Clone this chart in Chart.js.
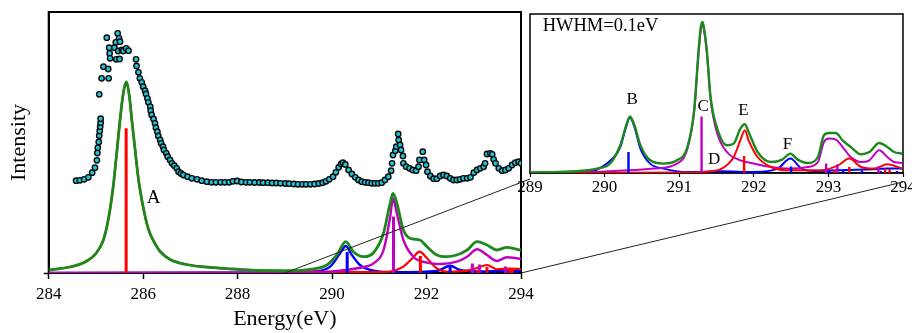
<!DOCTYPE html>
<html>
<head>
<meta charset="utf-8">
<script src="https://cdn.jsdelivr.net/npm/chart.js@4.4.1/dist/chart.umd.min.js"></script>
<style>
  html, body { margin: 0; padding: 0; background: #fff; overflow: hidden; }
  #wrap { position: relative; width: 912px; height: 333px; overflow: hidden; }
  #mainChart { position: absolute; left: 0; top: 0; }
  #zoomChart { position: absolute; left: 515px; top: 0; }
  #links { position: absolute; left: 0; top: 0; pointer-events: none; }
</style>
</head>
<body>
<div id="wrap">
  <canvas id="mainChart" width="560" height="333"></canvas>
  <canvas id="zoomChart" width="420" height="205"></canvas>
  <svg id="links" width="912" height="333"></svg>
</div>
<script>
// measured spectrum (dots), energy in eV, intensity in arb. units
const dotE = [284.58,284.66,284.75,284.84,284.92,284.98,285.02,285.03,285.04,285.06,285.07,285.07,285.08,285.09,285.10,285.10,
  285.12,285.16,285.23,285.26,285.27,285.28,285.29,285.30,285.39,285.42,285.43,285.46,285.47,285.49,285.50,285.51,285.55,285.58,
  285.64,285.69,285.85,285.86,285.90,285.93,285.97,286.00,286.04,286.06,286.09,286.11,286.15,286.16,286.18,286.22,286.25,286.27,
  286.30,286.32,286.36,286.38,286.42,286.44,286.49,286.52,286.57,286.61,286.66,286.71,286.75,286.80,286.85,286.94,287.03,287.14,
  287.24,287.35,287.45,287.54,287.64,287.73,287.82,287.90,287.99,288.08,288.18,288.26,288.36,288.46,288.54,288.64,288.73,288.82,
  288.91,289.01,289.09,289.19,289.28,289.37,289.45,289.54,289.63,289.72,289.80,289.87,289.94,290.02,290.08,290.14,290.19,290.23,
  290.28,290.35,290.42,290.49,290.56,290.63,290.70,290.77,290.84,290.91,290.98,291.05,291.12,291.19,291.25,291.27,291.29,291.34,
  291.36,291.40,291.41,291.44,291.46,291.50,291.51,291.57,291.64,291.71,291.78,291.83,291.85,291.92,291.95,291.99,292.02,292.08,
  292.15,292.22,292.29,292.36,292.43,292.50,292.57,292.64,292.71,292.78,292.86,292.93,293.00,293.07,293.14,293.21,293.24,293.28,
  293.35,293.39,293.42,293.46,293.53,293.60,293.67,293.74,293.81,293.88,293.95,294.00];
const dotI = [92.3,92.7,93.7,95.7,100.3,105.3,112.7,120,125.3,131,137.3,178.7,142,146.3,150.3,154.3,
  194.7,206.3,235.3,204,194.7,225.3,219.7,214.7,225.3,230.7,213.7,239.7,222,234.7,214,231.3,223,222,
  224.7,222.3,213.7,207,200.7,194.7,190.7,186.3,182.3,179,174.7,170.7,166.3,162.3,158,154,149.7,145.3,
  141.3,137,133,129.7,126.3,123,119.7,116.3,113,109.7,107.3,104.7,101.3,99.5,98,96.3,94.7,93.7,
  92.3,91.3,90.7,90.7,90.7,90.7,90.7,91.7,92,91,90.7,90.7,90.5,90.5,90.3,90.3,90,90,
  89.7,89.5,89.3,89,88.7,88.7,88.7,88.7,89,89.5,90.3,91.7,93.7,96.3,100.7,105.7,109,110.3,
  108.5,103,99,95.7,93,91.3,90.7,90.3,89.7,89.7,89.7,90.3,93,96.3,102.3,109.7,118,122.3,
  126.3,139,133,128,123,117,109.7,106.3,104.7,103,102.3,106.3,113,121.3,113,108,101.3,97,
  94.3,94.3,97,98,97,94.7,93,93,93.7,94.7,94.7,95.7,100.3,103,104.7,106.3,109.7,119,
  119.7,118.7,113.7,109.7,104.7,102.3,103,104.7,108,110.3,111.3,109.7];

// calculated transitions (sticks)
const redStickE = [285.64, 291.87, 293.08, 293.28, 293.76, 293.82];
const redStickI = [144.7, 17, 3, 6, 4, 4];
const blueStickE = [290.32, 291.56, 292.50, 293.01, 293.20, 293.45, 293.70, 293.92];
const blueStickI = [21, 2, 6.5, 2, 2, 2.5, 2, 2];
const magStickE = [291.30, 292.97, 293.12, 293.67];
const magStickI = [56.5, 9.5, 8.5, 6.5];

// broadened spectra, main panel
const mainGreenE = [284.00,284.45,284.77,285.00,285.15,285.23,285.30,285.37,285.44,285.51,285.58,285.64,285.71,285.76,285.83,
  285.90,285.98,286.08,286.14,286.21,286.28,286.36,286.57,286.92,287.48,287.90,288.62,289.11,289.54,289.89,290.10,290.29,290.45,290.67,290.88,
  291.09,291.23,291.29,291.37,291.51,291.65,291.86,292.01,292.22,292.43,292.64,292.86,293.07,293.28,293.49,293.70,293.91,294.00];
const mainGreenI = [3,6,11,19.5,32,46,64,88,120,153,180,191,176,153,123,
  94,71,49,40,33,27,21.5,13.5,8.5,5.3,4,2.3,2.3,3.7,8,18,31.3,21.3,16.3,20.5,
  40,70,79.5,70,43,34.7,33,26.3,18,16.3,18,23,31.3,28,23,25.7,23.7,23];
const mainRedE = [284.00,284.45,284.77,285.00,285.15,285.23,285.30,285.37,285.44,285.51,285.58,285.64,285.71,285.76,285.83,
  285.90,285.98,286.08,286.14,286.21,286.28,286.36,286.57,286.92,287.48,287.90,288.62,289.11,289.61,290.29,291.00,291.23,291.51,291.72,291.85,
  292.01,292.22,292.43,292.86,293.07,293.28,293.49,293.77,294.00];
const mainRedI = [3,6,11,19.5,32,46,64,88,120,153,180,191,176,153,123,
  94,71,49,40,33,27,21.5,13.5,8.5,5.3,4,2.3,1.8,1.3,1,1,1.5,6.3,15.7,21.3,
  14.7,4.7,1.3,2.3,5,8,3.7,4.5,4];
const mainMagE = [284.00,289.50,289.96,290.29,290.67,290.88,291.09,291.23,291.29,291.37,291.51,291.72,292.01,292.29,292.64,
  292.86,293.07,293.28,293.49,293.70,293.91,294.00];
const mainMagI = [0,0.5,1.3,3,6,9.7,23,56,74.7,59.7,33,16.3,10.3,9,11.3,16.3,23.7,18,12,15.7,14.7,14];
const mainBlueE = [284.00,289.30,289.61,289.96,290.17,290.29,290.42,290.59,290.88,291.37,292.22,292.50,292.71,293.14,293.60,294.00];
const mainBlueI = [0,0.5,1.3,6.3,19.7,27,18,8,2.3,0.7,2,7.3,3,1.5,2,2];

// broadened spectra, zoomed panel (HWHM = 0.1 eV)
const zoomGreenE = [289.00,289.54,289.90,290.08,290.21,290.29,290.34,290.40,290.48,290.61,290.79,290.97,291.11,291.20,291.26,
  291.29,291.31,291.33,291.37,291.42,291.51,291.64,291.73,291.82,291.88,291.93,292.05,292.23,292.38,292.49,292.59,292.72,292.86,292.94,293.01,
  293.10,293.19,293.30,293.44,293.55,293.68,293.79,293.88,293.99];
const zoomGreenI = [0.5,1.5,4.4,10,27.7,47.7,56.5,47.7,27.7,12.7,9.4,12.7,26,62.7,122.7,
  146,151,146,122.7,76,44.4,27.7,29.4,44.4,48.7,41,21,11,13.4,19.4,13.4,10,16,37.7,40,
  40,32.7,26,18.7,21,30,26,21,19.4];
const zoomMagE = [289.00,290.00,290.66,290.97,291.11,291.20,291.26,291.29,291.31,291.33,291.37,291.42,291.51,291.64,291.82,292.00,292.23,
  292.49,292.72,292.86,292.94,293.01,293.10,293.19,293.30,293.44,293.55,293.68,293.79,293.88,293.99];
const zoomMagI = [0,1.5,4.4,9.4,24.4,61,120,144,149,144,121,74.4,39.4,21,12.7,9.4,6,4.4,6,11,31,34.4,33.4,26,16,11,12.7,22.7,16,11,10];
const zoomBlueE = [289.00,289.76,290.03,290.21,290.29,290.34,290.40,290.48,290.61,290.79,291.11,291.57,292.00,292.32,292.49,
  292.64,292.82,293.13,293.48,293.79,293.99];
const zoomBlueI = [0.3,1,9.4,26,46.7,55.4,46,24.4,9.4,4.4,1,1.7,1,4.4,14.4,4.4,2,2.7,3.4,4.4,4.4];
const zoomRedE = [289.00,291.10,291.31,291.57,291.73,291.82,291.88,291.93,292.05,292.23,292.45,292.90,293.13,293.28,293.44,
  293.62,293.79,293.99];
const zoomRedI = [0,0.5,1,4.4,16,32.7,42.7,32.7,16,6,2.7,2.7,7.7,14.4,6,4.4,8.7,4.4];

// peak letters
const mainLabels = ['A'];
const mainLabelE = [286.22];
const mainLabelI = [75];
const zoomLabels = ['B', 'C', 'D', 'E', 'F'];
const zoomLabelE = [290.37, 291.32, 291.47, 291.86, 292.45];
const zoomLabelI = [73.5, 66, 13, 62.5, 28.5];

const serif = "'Liberation Serif', 'Times New Roman', serif";
const GREEN = '#1c891c', RED = '#ff0000', BLUE = '#0000ff', MAG = '#bf00bf';

function pts(E, I) { return E.map((e, i) => ({ x: e, y: I[i] })); }
function stickPts(E, I) {
  const out = [];
  E.forEach((e, i) => { out.push({ x: e, y: 0 }, { x: e, y: I[i] }, { x: e, y: null }); });
  return out;
}
function curve(data, color, width) {
  return { data, borderColor: color, borderWidth: width, pointRadius: 0, fill: false, cubicInterpolationMode: 'monotone' };
}
function sticks(data, color, width) {
  return { data, borderColor: color, borderWidth: width, pointRadius: 0, fill: false, tension: 0, spanGaps: false, borderCapStyle: 'butt' };
}

const framePlugin = {
  id: 'frame',
  beforeDatasetsDraw(chart, args, opts) {
    const { ctx, chartArea: a } = chart;
    ctx.save();
    ctx.strokeStyle = '#000';
    ctx.lineWidth = opts.width || 1.5;
    ctx.strokeRect(a.left, a.top, a.right - a.left, a.bottom - a.top);
    ctx.restore();
  }
};

const textPlugin = {
  id: 'notes',
  afterDatasetsDraw(chart, args, opts) {
    const { ctx, scales: { x, y } } = chart;
    ctx.save();
    ctx.fillStyle = '#000';
    ctx.textBaseline = 'middle';
    (opts.items || []).forEach(it => {
      ctx.font = it.font;
      ctx.textAlign = it.align || 'center';
      ctx.fillText(it.text, x.getPixelForValue(it.x), y.getPixelForValue(it.y));
    });
    ctx.restore();
  }
};

const mainChart = new Chart(document.getElementById('mainChart'), {
  type: 'line',
  data: {
    datasets: [
      { data: pts(dotE, dotI), showLine: false, pointRadius: 2.7, pointBorderWidth: 1.4,
        pointBackgroundColor: '#1ec6d8', pointBorderColor: '#0a0a0a' },
      sticks(stickPts(redStickE, redStickI), RED, 3),
      sticks(stickPts(magStickE, magStickI), MAG, 3),
      sticks(stickPts(blueStickE, blueStickI), BLUE, 3),
      curve(pts(mainGreenE, mainGreenI), GREEN, 2.8),
      curve(pts(mainMagE, mainMagI), MAG, 2.4),
      curve(pts(mainRedE, mainRedI), RED, 2.2),
      curve(pts(mainBlueE, mainBlueI), BLUE, 2.4)
    ]
  },
  options: {
    responsive: false,
    animation: false,
    events: [],
    layout: { padding: { left: 0, top: 12, right: 39, bottom: 0 } },
    scales: {
      x: {
        type: 'linear', min: 284, max: 294,
        ticks: { stepSize: 2, color: '#000', padding: 5, font: { family: serif, size: 17 } },
        grid: { drawOnChartArea: false, tickLength: 6, tickColor: '#000', tickWidth: 1.5 },
        border: { color: '#000', width: 1.5 },
        title: { display: true, text: 'Energy(eV)', color: '#000', font: { family: serif, size: 22 }, padding: { top: 0, bottom: 1 } },
        afterFit: s => { s.height = 60; }
      },
      y: {
        min: 0, max: 261,
        ticks: { display: false, stepSize: 1000 },
        grid: { drawOnChartArea: false, tickLength: 5, tickWidth: 1.5,
          tickColor: c => (c.tick && c.tick.value === 0) ? '#000' : 'rgba(0,0,0,0)' },
        border: { color: '#000', width: 2 },
        title: { display: true, text: 'Intensity', color: '#000', font: { family: serif, size: 22 }, padding: { top: 6.5, bottom: 0 } },
        afterFit: s => { s.width = 48.7; }
      }
    },
    plugins: {
      legend: { display: false },
      tooltip: { enabled: false },
      frame: { width: 2 },
      notes: { items: mainLabels.map((t, i) => ({ text: t, x: mainLabelE[i], y: mainLabelI[i], font: '19px ' + serif })) }
    }
  },
  plugins: [framePlugin, textPlugin]
});

const zoomChart = new Chart(document.getElementById('zoomChart'), {
  type: 'line',
  data: {
    datasets: [
      sticks(stickPts(redStickE, redStickI), RED, 2.4),
      sticks(stickPts(magStickE, magStickI), MAG, 2.4),
      sticks(stickPts(blueStickE, blueStickI), BLUE, 2.4),
      curve(pts(zoomGreenE, zoomGreenI), GREEN, 2.4),
      curve(pts(zoomRedE, zoomRedI), RED, 2),
      curve(pts(zoomMagE, zoomMagI), MAG, 2),
      curve(pts(zoomBlueE, zoomBlueI), BLUE, 2)
    ]
  },
  options: {
    responsive: false,
    animation: false,
    events: [],
    layout: { padding: { left: 15, top: 14, right: 32, bottom: 0 } },
    scales: {
      x: {
        type: 'linear', min: 289, max: 294,
        ticks: { stepSize: 1, color: '#000', padding: 0.5, font: { family: serif, size: 17 } },
        grid: { drawOnChartArea: false, tickLength: 4, tickColor: '#000', tickWidth: 1.2 },
        border: { color: '#000', width: 1.5 },
        afterFit: s => { s.height = 32; }
      },
      y: { display: false, min: 0, max: 159 }
    },
    plugins: {
      legend: { display: false },
      tooltip: { enabled: false },
      frame: { width: 1.5 },
      notes: {
        items: [{ text: 'HWHM=0.1eV', x: 289.17, y: 147, align: 'left', font: '18.5px ' + serif }]
          .concat(zoomLabels.map((t, i) => ({ text: t, x: zoomLabelE[i], y: zoomLabelI[i], font: '17px ' + serif })))
      }
    }
  },
  plugins: [framePlugin, textPlugin]
});

// connector lines between the main panel and the zoomed panel
(function () {
  const svg = document.getElementById('links');
  const off = document.getElementById('zoomChart').offsetLeft;
  const mx = mainChart.scales.x, my = mainChart.scales.y;
  const zx = zoomChart.scales.x, za = zoomChart.chartArea;
  function link(x1, y1, x2, y2) {
    const l = document.createElementNS('http://www.w3.org/2000/svg', 'line');
    l.setAttribute('x1', x1); l.setAttribute('y1', y1);
    l.setAttribute('x2', x2); l.setAttribute('y2', y2);
    l.setAttribute('stroke', '#222'); l.setAttribute('stroke-width', '1');
    svg.appendChild(l);
  }
  link(mx.getPixelForValue(289), my.getPixelForValue(0), off + zx.getPixelForValue(289), za.bottom + 6);
  link(mx.getPixelForValue(294), my.getPixelForValue(0), off + zx.getPixelForValue(294), za.bottom + 9);
})();
</script>
</body>
</html>
